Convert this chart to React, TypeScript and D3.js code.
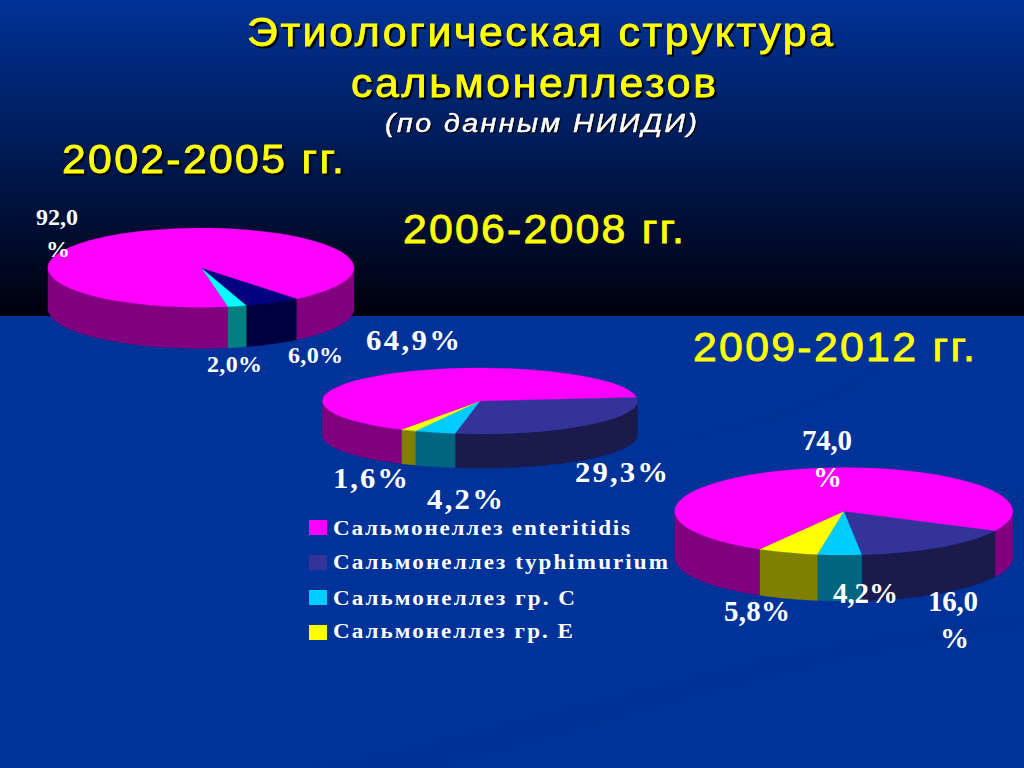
import React from "react";
import * as d3 from "d3";

// ---- data ----
const legendLabels = ["Сальмонеллез enteritidis", "Сальмонеллез typhimurium", "Сальмонеллез гр. C", "Сальмонеллез гр. E"];
const titleLines = ["Этиологическая структура", "сальмонеллезов"];
const subtitle = "(по данным НИИДИ)";
const periods = ["2002-2005 гг.", "2006-2008 гг.", "2009-2012 гг."];

const slices2005 = ["typhimurium", "C", "enteritidis"];
const values2005 = [6.0, 2.0, 92.0];
const slices2008 = ["typhimurium", "C", "E", "enteritidis"];
const values2008 = [29.3, 4.2, 1.6, 64.9];
const slices2012 = ["typhimurium", "C", "E", "enteritidis"];
const values2012 = [16.0, 4.2, 5.8, 74.0];

// ---- styles and layout ----
const topColour: Record<string, string> = { enteritidis: "#FF00FF", typhimurium: "#333399", C: "#00CCFF", E: "#FFFF00" };
const wallColour: Record<string, string> = { enteritidis: "#800080", typhimurium: "#1A1A4D", C: "#006680", E: "#808000" };
const topColour2005: Record<string, string> = { enteritidis: "#FF00FF", typhimurium: "#000080", C: "#00FFFF" };
const wallColour2005: Record<string, string> = { enteritidis: "#800080", typhimurium: "#000040", C: "#008080" };

const legendKeys = ["enteritidis", "typhimurium", "C", "E"];

const SERIF = "'Liberation Serif', serif";
const SANS = "'Liberation Sans', Arial, sans-serif";

type Lab = { t: string; x0: number; x1: number; y: number; fs: number };

const pies = [
  {
    keys: slices2005, values: values2005, top: topColour2005, wall: wallColour2005,
    cx: 201, cy: 267.7, rx: 153, ry: 39.7, depth: 41, startDeg: 141.2, sx: 1,
    labels: [
      { t: "92,0", x0: 36, x1: 78, y: 225, fs: 24 },
      { t: "%", x0: 46, x1: 69, y: 257, fs: 24 },
      { t: "2,0%", x0: 207, x1: 262, y: 372, fs: 24 },
      { t: "6,0%", x0: 288, x1: 343, y: 363, fs: 24 },
    ] as Lab[],
  },
  {
    keys: slices2008, values: values2008, top: topColour, wall: wallColour,
    cx: 480, cy: 401, rx: 157.5, ry: 33, depth: 34, startDeg: 83.6, sx: 1.06,
    labels: [
      { t: "64,9%", x0: 366, x1: 460, y: 350, fs: 29 },
      { t: "29,3%", x0: 575, x1: 668, y: 482, fs: 29 },
      { t: "1,6%", x0: 333, x1: 408, y: 488, fs: 29 },
      { t: "4,2%", x0: 427, x1: 503, y: 509, fs: 29 },
    ] as Lab[],
  },
  {
    keys: slices2012, values: values2012, top: topColour, wall: wallColour,
    cx: 843.8, cy: 511.3, rx: 169, ry: 43.7, depth: 46, startDeg: 116.3, sx: 1,
    labels: [
      { t: "74,0", x0: 802, x1: 852, y: 450, fs: 29 },
      { t: "%", x0: 813, x1: 839, y: 487, fs: 29 },
      { t: "4,2%", x0: 833, x1: 898, y: 603, fs: 29 },
      { t: "5,8%", x0: 724, x1: 790, y: 621, fs: 29 },
      { t: "16,0", x0: 928, x1: 978, y: 611, fs: 29 },
      { t: "%", x0: 940, x1: 966, y: 648, fs: 29 },
    ] as Lab[],
  },
];

const swooshes = [
  "M628,447 C760,425 880,390 908,322 C915,370 800,430 628,447 Z",
  "M300,768 C480,745 720,650 1024,616 L1024,626 C780,660 560,740 430,768 Z",
  "M960,560 C985,530 1005,505 1024,488 L1024,520 C1005,535 985,550 960,560 Z",
];

function Fit({ t, x0, x1, y, sx, ...rest }: any) {
  return (
    <text transform={`translate(${x0},${y}) scale(${sx},1)`} textLength={(x1 - x0) / sx} lengthAdjust="spacing" {...rest}>
      {t}
    </text>
  );
}

function Pie3D({ p }: { p: (typeof pies)[number] }) {
  const start = (p.startDeg * Math.PI) / 180;
  const arcs = d3.pie<number>().sort(null).startAngle(start).endAngle(start + 2 * Math.PI)(p.values);
  const arc = d3.arc<any>().innerRadius(0).outerRadius(1);
  const px = (a: number) => p.cx + p.rx * Math.sin(a);
  const py = (a: number) => p.cy - p.ry * Math.cos(a);
  const line = d3.line<[number, number]>();

  const walls: { d: string; c: string }[] = [];
  arcs.forEach((s, i) => {
    [-1, 0, 1, 2].forEach((k) => {
      const a0 = Math.max(s.startAngle, Math.PI / 2 + 2 * Math.PI * k);
      const a1 = Math.min(s.endAngle, (3 * Math.PI) / 2 + 2 * Math.PI * k);
      if (a1 <= a0) return;
      const t = d3.scaleLinear().domain([0, 60]).range([a0, a1]);
      const as = d3.range(61).map((j) => t(j));
      const upper = as.map((a) => [px(a), py(a)] as [number, number]);
      const lower = as.slice().reverse().map((a) => [px(a), py(a) + p.depth] as [number, number]);
      walls.push({ d: line([...upper, ...lower]) + "Z", c: p.wall[p.keys[i]] });
    });
  });

  return (
    <g>
      {walls.map((w, i) => (
        <path key={i} d={w.d} fill={w.c} stroke={w.c} strokeWidth={0.4} />
      ))}
      <g transform={`translate(${p.cx},${p.cy}) scale(${p.rx},${p.ry})`}>
        {arcs.map((s, i) => (
          <path key={i} d={arc(s) as string} fill={p.top[p.keys[i]]} stroke={p.top[p.keys[i]]} strokeWidth={0.3} vectorEffect="non-scaling-stroke" />
        ))}
      </g>
      {p.labels.map((l, i) => (
        <Fit key={i} t={l.t} x0={l.x0} x1={l.x1} y={l.y} sx={l.t === "%" ? 1 : p.sx} fontFamily={SERIF} fontWeight="bold" fontSize={l.fs} fill="#FFFFFF" />
      ))}
    </g>
  );
}

function Heading({ t, x0, x1, y, fs, italic, fill, shadow, sx = 1.07, sw = 0.8 }: any) {
  return (
    <g style={shadow ? { filter: `drop-shadow(${shadow}px ${shadow}px 0.6px #000000)` } : undefined}>
      <Fit t={t} x0={x0} x1={x1} y={y} sx={sx} fontFamily={SANS} fontSize={fs} fontStyle={italic ? "italic" : "normal"} fill={fill} stroke={fill} strokeWidth={sw} />
    </g>
  );
}

export default function App() {
  const W = 1024, H = 768, split = 316;
  const bandY = d3.scaleBand<number>().domain(d3.range(79)).range([0, split]);
  const legendY = [520, 555, 590, 625];
  const legendBase = [535, 569, 605, 638];
  const legendEnd = [630, 668, 575, 573];
  return (
    <svg width={W} height={H} viewBox={`0 0 ${W} ${H}`} style={{ position: "fixed", left: 0, top: 0, display: "block" }}>
      <defs>
        <linearGradient id="sky" x1="0" y1="0" x2="0" y2="1">
          <stop offset="0" stopColor="#003399" />
          <stop offset="1" stopColor="#00000C" />
        </linearGradient>
      </defs>
      <rect width={W} height={H} fill="#003399" />
      {swooshes.map((d, i) => (
        <path key={i} d={d} fill="#002E8C" opacity={0.35} />
      ))}
      <rect width={W} height={split} fill="url(#sky)" />
      {bandY.domain().map((i) => (
        <rect key={i} x={0} y={bandY(i)} width={W} height={1} fill="#000000" opacity={0.05} />
      ))}

      <Heading t={titleLines[0]} x0={247} x1={833} y={46} fs={40} fill="#FFFF00" shadow={2.5} />
      <Heading t={titleLines[1]} x0={351} x1={716} y={97} fs={40} fill="#FFFF00" shadow={2.5} />
      <Heading t={subtitle} x0={385} x1={697} y={132} fs={26} italic fill="#FFFFFF" shadow={1.5} sx={1.1} sw={0.5} />
      <Heading t={periods[0]} x0={62} x1={344} y={173} fs={40} fill="#FFFF00" shadow={2.5} />
      <Heading t={periods[1]} x0={403} x1={684} y={243} fs={40} fill="#FFFF00" />
      <Heading t={periods[2]} x0={693} x1={975} y={361} fs={40} fill="#FFFF00" />

      {pies.map((p, i) => (
        <Pie3D key={i} p={p} />
      ))}

      {legendLabels.map((t, i) => (
        <g key={t}>
          <rect x={309} y={legendY[i]} width={18} height={15} fill={topColour[legendKeys[i]]} />
          <Fit t={t} x0={333} x1={legendEnd[i]} y={legendBase[i]} sx={1.05} fontFamily={SERIF} fontWeight="bold" fontSize={22} fill="#FFFFFF" />
        </g>
      ))}
    </svg>
  );
}
